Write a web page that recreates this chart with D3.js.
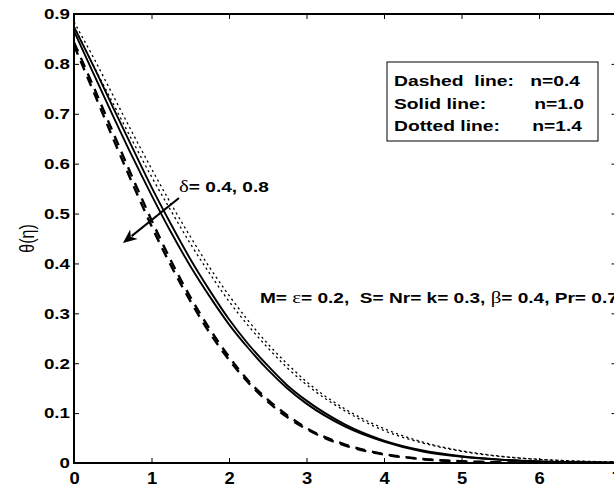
<!DOCTYPE html>
<html><head><meta charset="utf-8">
<script src="https://cdn.jsdelivr.net/npm/d3@7"></script>
<style>body{margin:0;background:#fff;} svg{display:block;}</style>
</head><body>
<svg id="c" width="614" height="489"></svg>
<script>
// ---- data ----
const eta = [0,0.25,0.5,0.75,1,1.25,1.5,1.75,2,2.25,2.5,2.75,3,3.5,4,4.5,5,5.5,6,6.5,7];
// n = 0.4 (dashed), two curves (delta = 0.4, 0.8)
const dashedA = [0.843,0.755,0.664,0.574,0.487,0.406,0.333,0.269,0.213,0.165,0.127,0.096,0.070,0.037,0.018,0.0081,0.0034,0.0013,0.0005,0.0002,0.0];
const dashedB = [0.837,0.745,0.652,0.562,0.475,0.396,0.325,0.261,0.207,0.161,0.123,0.092,0.068,0.035,0.017,0.0077,0.0032,0.0013,0.0005,0.0002,0.0];
// n = 1.0 (solid)
const solidA = [0.874,0.796,0.714,0.633,0.553,0.479,0.409,0.346,0.288,0.238,0.195,0.156,0.125,0.077,0.045,0.025,0.0135,0.0068,0.0033,0.0015,0.0006];
const solidB = [0.866,0.781,0.697,0.615,0.537,0.463,0.395,0.334,0.278,0.230,0.187,0.150,0.119,0.073,0.043,0.023,0.0125,0.0064,0.0031,0.0015,0.0006];
// n = 1.4 (dotted)
const dottedA = [0.884,0.813,0.738,0.663,0.590,0.520,0.454,0.392,0.336,0.285,0.239,0.199,0.163,0.108,0.069,0.042,0.0245,0.0137,0.0075,0.0039,0.0019];
const dottedB = [0.876,0.797,0.722,0.647,0.574,0.506,0.440,0.380,0.324,0.275,0.231,0.191,0.157,0.104,0.065,0.040,0.0235,0.0131,0.0071,0.0037,0.0019];

const xTicks = [0,1,2,3,4,5,6,7];
const xTickLabels = ["0","1","2","3","4","5","6","7"];
const yTicks = [0,0.1,0.2,0.3,0.4,0.5,0.6,0.7,0.8,0.9];
const yTickLabels = ["0","0.1","0.2","0.3","0.4","0.5","0.6","0.7","0.8","0.9"];
const legendLeft = ["Dashed  line:","Solid line:","Dotted line:"];
const legendRight = ["n=0.4","n=1.0","n=1.4"];

// ---- layout ----
const svg = d3.select("#c");
const L = 74, R = 616.5, T = 14, B = 463;
const x = d3.scaleLinear().domain([0,7]).range([L,R]);
const y = d3.scaleLinear().domain([0,0.9]).range([B,T]);
const FONT = "'Liberation Sans', Arial, Helvetica, sans-serif";
const GREEK = "'Liberation Serif', 'DejaVu Serif', serif";

// horizontal stretch of text (the reference figure text is widened)
function stretch(sel, sx){
  sel.each(function(){
    const t = d3.select(this);
    const tx = +t.attr("x") || 0, ty = +t.attr("y") || 0;
    t.attr("x",0).attr("y",0).attr("transform",`translate(${tx},${ty}) scale(${sx},1)`);
  });
}

svg.append("rect").attr("width",614).attr("height",489).attr("fill","#fff");

svg.append("defs").append("clipPath").attr("id","clip")
  .append("rect").attr("x",L).attr("y",T).attr("width",R-L).attr("height",B-T);

const line = d3.line().x((d,i)=>x(eta[i])).y(d=>y(d)).curve(d3.curveMonotoneX);
const g = svg.append("g").attr("clip-path","url(#clip)");

const series = [
  {v: dottedA, w: 1.3, dash: "2.2,3.2"},
  {v: dottedB, w: 1.3, dash: "2.2,3.2"},
  {v: solidA, w: 1.9, dash: null},
  {v: solidB, w: 1.9, dash: null},
  {v: dashedA, w: 2.4, dash: "10,7"},
  {v: dashedB, w: 2.4, dash: "10,7"}
];
series.forEach(s=>{
  g.append("path").attr("d", line(s.v)).attr("fill","none")
   .attr("stroke","#000").attr("stroke-width", s.w)
   .attr("stroke-dasharray", s.dash);
});

// ---- axes (MATLAB style box, inward ticks) ----
const ax = svg.append("g");
const axB = d3.axisBottom(x).tickValues(xTicks).tickSizeInner(-5).tickSizeOuter(0)
  .tickPadding(10).tickFormat((d,i)=>xTickLabels[i]);
const gb = ax.append("g").attr("transform",`translate(0,${B})`).call(axB);
const axT = d3.axisTop(x).tickValues(xTicks).tickSizeInner(-5).tickSizeOuter(0).tickFormat("");
const gt = ax.append("g").attr("transform",`translate(0,${T})`).call(axT);
const axL = d3.axisLeft(y).tickValues(yTicks).tickSizeInner(-5).tickSizeOuter(0)
  .tickPadding(4).tickFormat((d,i)=>yTickLabels[i]);
const gl = ax.append("g").attr("transform",`translate(${L},0)`).call(axL);
const axR = d3.axisRight(y).tickValues(yTicks).tickSizeInner(-5).tickSizeOuter(0).tickFormat("");
const gr = ax.append("g").attr("transform",`translate(${R},0)`).call(axR);
[gb,gt,gl,gr].forEach(a=>{
  a.select(".domain").remove();
  a.selectAll(".tick line").attr("stroke","#000").attr("stroke-width",1);
  a.selectAll("text").attr("fill","#000").attr("font-family",FONT).attr("font-weight","bold");
});
gl.selectAll("text").attr("font-size",15);
stretch(gl.selectAll("text"), 1.25);
gb.selectAll("text").attr("font-size",16);
stretch(gb.selectAll("text"), 1.15);
svg.append("rect").attr("x",L).attr("y",T).attr("width",R-L).attr("height",B-T)
  .attr("fill","none").attr("stroke","#000").attr("stroke-width",2);

// y label
svg.append("text").attr("transform",`translate(34,${(T+B)/2}) rotate(-90) scale(1,1.25)`)
  .attr("text-anchor","middle").attr("font-family",FONT).attr("font-size",16).text("θ(η)");

// ---- legend box ----
const lg = svg.append("g").attr("font-family",FONT).attr("font-weight","bold").attr("font-size",14.5);
lg.append("rect").attr("x",387).attr("y",62).attr("width",211).attr("height",79)
  .attr("fill","#fff").attr("stroke","#000").attr("stroke-width",1);
legendLeft.forEach((t,i)=>{
  const a = lg.append("text").attr("x",394).attr("y",86+i*22.5).attr("xml:space","preserve").text(t);
  stretch(a, 1.33);
  const b = lg.append("text").attr("x",[580,584,582][i]).attr("y",86+i*22.5).attr("text-anchor","end").text(legendRight[i]);
  stretch(b, 1.33);
});

// ---- annotations ----
const ann = svg.append("g").attr("font-family",FONT).attr("font-weight","bold").attr("font-size",15.5);
const t1 = ann.append("text").attr("x",x(1.355)).attr("y",y(0.543));
t1.append("tspan").attr("font-family",GREEK).attr("font-weight","normal").attr("font-size",17).text("δ");
t1.append("tspan").text("= 0.4, 0.8");
stretch(t1, 1.23);

const t2 = ann.append("text").attr("x",x(2.4)).attr("y",y(0.321)).attr("xml:space","preserve");
t2.append("tspan").text("M= ");
t2.append("tspan").attr("font-family",GREEK).attr("font-weight","normal").attr("font-size",17).text("ε");
t2.append("tspan").text("= 0.2,  S= Nr= k= 0.3, ");
t2.append("tspan").attr("font-family",GREEK).attr("font-weight","normal").attr("font-size",17).text("β");
t2.append("tspan").text("= 0.4, Pr= 0.7");
stretch(t2, 1.23);

// arrow
const x0 = x(1.355), y0 = y(0.531), x1 = x(0.632), y1 = y(0.441);
const ang = Math.atan2(y1-y0, x1-x0);
const hl = 14, hw = 6;
const bx = x1 - hl*Math.cos(ang), by = y1 - hl*Math.sin(ang);
svg.append("line").attr("x1",x0).attr("y1",y0).attr("x2",bx+3*Math.cos(ang)).attr("y2",by+3*Math.sin(ang))
  .attr("stroke","#000").attr("stroke-width",2);
const px = -Math.sin(ang), py = Math.cos(ang);
const nx = x1 - (hl-4)*Math.cos(ang), ny = y1 - (hl-4)*Math.sin(ang);
svg.append("path").attr("d",`M${x1},${y1} L${bx+hw*px},${by+hw*py} L${nx},${ny} L${bx-hw*px},${by-hw*py} Z`)
  .attr("fill","#000");
</script>
</body></html>
